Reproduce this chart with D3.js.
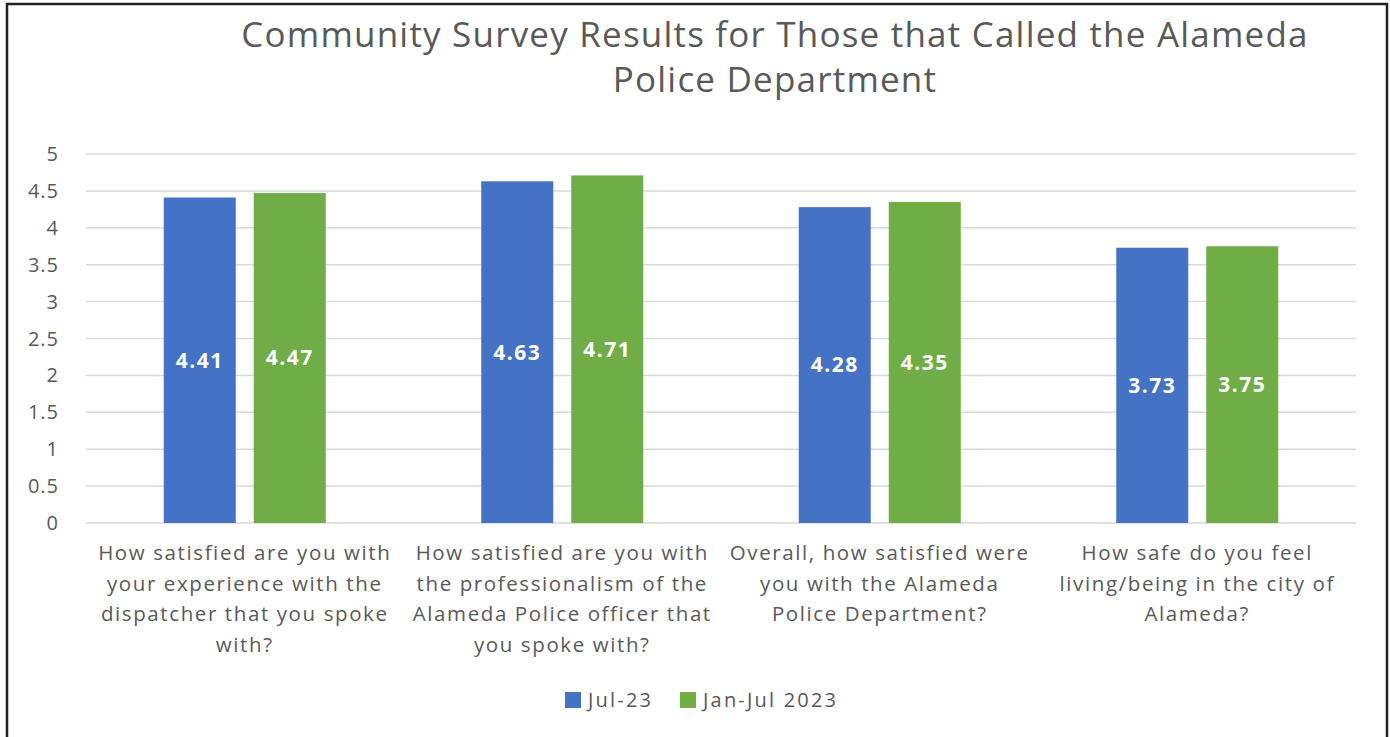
<!DOCTYPE html>
<html lang="en">
<head>
<meta charset="UTF-8">
<title>Community Survey Results</title>
<script src="https://d3js.org/d3.v7.min.js"></script>
<style>
  body { margin: 0; background: #fff; }
  svg { font-family: "Open Sans", sans-serif; }
</style>
</head>
<body>
<div id="chart"></div>
<script>
// data
var categories = [
  ["How satisfied are you with", "your experience with the", "dispatcher that you spoke", "with?"],
  ["How satisfied are you with", "the professionalism of the", "Alameda Police officer that", "you spoke with?"],
  ["Overall, how satisfied were", "you with the Alameda", "Police Department?"],
  ["How safe do you feel", "living/being in the city of", "Alameda?"]
];
var seriesNames = ["Jul-23", "Jan-Jul 2023"];
var jul23 = [4.41, 4.63, 4.28, 3.73];
var janJul2023 = [4.47, 4.71, 4.35, 3.75];
var yTicks = [0, 0.5, 1, 1.5, 2, 2.5, 3, 3.5, 4, 4.5, 5];
var titleLines = ["Community Survey Results for Those that Called the Alameda", "Police Department"];

var W = 1390, H = 737;
var colors = ["#4472C4", "#70AD47"];
var textCol = "#595959";

var svg = d3.select("#chart").append("svg")
  .attr("width", W).attr("height", H);

// outer frame
svg.append("rect")
  .attr("x", 7).attr("y", 4)
  .attr("width", 1380).attr("height", H + 20)
  .attr("fill", "#fff")
  .attr("stroke", "#222").attr("stroke-width", 2.5);

var plotL = 86, plotR = 1356, plotT = 154, plotB = 523;

var y = d3.scaleLinear().domain([0, 5]).range([plotB, plotT]);
var x0 = d3.scaleBand().domain(d3.range(categories.length)).range([plotL, plotR]);
var x1 = d3.scaleBand().domain([0, 1]).range([x0.bandwidth() / 2 - 81, x0.bandwidth() / 2 + 81]).paddingInner(0.2);

// title
svg.append("g").selectAll("text")
  .data(titleLines).join("text")
  .attr("x", 775)
  .attr("y", (d, i) => 47 + i * 45)
  .attr("text-anchor", "middle")
  .attr("fill", textCol)
  .attr("font-size", 35)
  .attr("letter-spacing", 1.2)
  .text(d => d);

// grid
svg.append("g").selectAll("line")
  .data(yTicks).join("line")
  .attr("x1", plotL).attr("x2", plotR)
  .attr("y1", d => y(d)).attr("y2", d => y(d))
  .attr("stroke", "#d9d9d9").attr("stroke-width", 1.5);

// y tick labels
svg.append("g").selectAll("text")
  .data(yTicks).join("text")
  .attr("x", 59)
  .attr("y", d => y(d))
  .attr("dy", "0.35em")
  .attr("text-anchor", "end")
  .attr("fill", textCol)
  .attr("font-size", 20)
  .attr("letter-spacing", 1)
  .text(d => d);

// bars
var series = [jul23, janJul2023];
var groups = svg.append("g").selectAll("g")
  .data(series).join("g")
  .attr("fill", (d, i) => colors[i]);

groups.each(function(vals, si) {
  var g = d3.select(this);
  g.selectAll("rect")
    .data(vals).join("rect")
    .attr("x", (d, ci) => x0(ci) + x1(si))
    .attr("y", d => y(d))
    .attr("width", x1.bandwidth())
    .attr("height", d => y(0) - y(d));
  g.selectAll("text")
    .data(vals).join("text")
    .attr("x", (d, ci) => x0(ci) + x1(si) + x1.bandwidth() / 2)
    .attr("y", d => y(d / 2))
    .attr("dy", "0.35em")
    .attr("text-anchor", "middle")
    .attr("fill", "#fff")
    .attr("font-size", 21)
    .attr("font-weight", "bold")
    .attr("letter-spacing", 1.5)
    .text(d => d.toFixed(2));
});

// category labels
var cat = svg.append("g").selectAll("text")
  .data(categories).join("text")
  .attr("x", (d, i) => x0(i) + x0.bandwidth() / 2)
  .attr("text-anchor", "middle")
  .attr("fill", textCol)
  .attr("font-size", 20.5)
  .attr("letter-spacing", 1.6);
cat.selectAll("tspan")
  .data(d => d).join("tspan")
  .attr("x", function() { return this.parentNode.getAttribute("x"); })
  .attr("y", (d, i) => 560 + i * 30.7)
  .text(d => d);

// legend
var legend = svg.append("g").selectAll("g")
  .data(seriesNames).join("g")
  .attr("transform", (d, i) => `translate(${i === 0 ? 565 : 680},692)`);
legend.append("rect")
  .attr("width", 16).attr("height", 16)
  .attr("fill", (d, i) => colors[i]);
legend.append("text")
  .attr("x", 23).attr("y", 8).attr("dy", "0.36em")
  .attr("fill", textCol)
  .attr("font-size", 20)
  .attr("letter-spacing", 2.2)
  .text(d => d);
</script>
</body>
</html>
